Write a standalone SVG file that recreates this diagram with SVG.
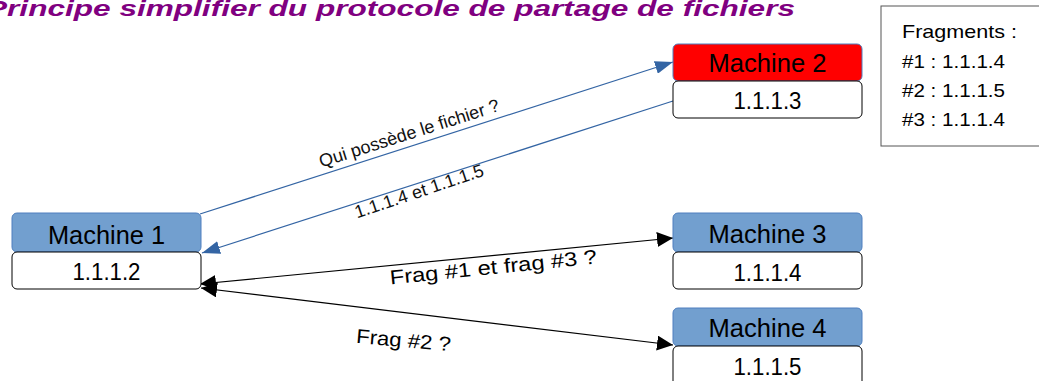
<svg xmlns="http://www.w3.org/2000/svg" width="1039" height="381" viewBox="0 0 1039 381">
  <style>
    .hdr { fill: #729fcf; stroke: #4f7fbf; stroke-width: 1; }
    .hdr-red { fill: #ff0000; stroke: #4f7fbf; stroke-width: 1; }
    .ip { fill: #ffffff; stroke: #000000; stroke-width: 1; }
    .name { font-family: "Liberation Sans", Arial, sans-serif; font-size: 26px; fill: #000; text-anchor: middle; }
    .addr { font-family: "Liberation Sans", Arial, sans-serif; font-size: 24px; fill: #000; text-anchor: middle; }
    .blue { stroke: #3465a4; stroke-width: 1.2; fill: none; }
    .black { stroke: #000000; stroke-width: 1.2; fill: none; }
    .lbl { font-family: "Liberation Sans", Arial, sans-serif; font-size: 18px; fill: #111; text-anchor: middle; }
    .lbl2 { font-family: "Liberation Sans", Arial, sans-serif; font-size: 20px; fill: #000; text-anchor: middle; }
    .frag { font-family: "Liberation Sans", Arial, sans-serif; font-size: 19px; fill: #000; }
    .title { font-family: "Liberation Sans", Arial, sans-serif; font-size: 22px; font-weight: bold; font-style: italic; fill: #800080; }
  </style>
  <defs>
    <marker id="arrBlue" markerUnits="userSpaceOnUse" markerWidth="18" markerHeight="13" refX="18" refY="6.5" orient="auto-start-reverse">
      <path d="M0,0 L18,6.5 L0,13 Z" fill="#3465a4"/>
    </marker>
    <marker id="arrBlack" markerUnits="userSpaceOnUse" markerWidth="16" markerHeight="15" refX="16" refY="7.5" orient="auto-start-reverse">
      <path d="M0,0 L16,7.5 L0,15 Z" fill="#000000"/>
    </marker>
  </defs>
  <rect x="0" y="0" width="1039" height="381" fill="#ffffff"/>

  <text id="title" class="title" x="-14" y="16" textLength="809" lengthAdjust="spacingAndGlyphs">Principe simplifier du protocole de partage de fichiers</text>

  <g id="fragments">
    <rect x="881" y="6" width="170" height="140" fill="#ffffff" stroke="#555555" stroke-width="1"/>
    <text class="frag" x="902" y="38" textLength="115" lengthAdjust="spacingAndGlyphs">Fragments :</text>
    <text class="frag" x="902" y="68" textLength="103" lengthAdjust="spacingAndGlyphs">#1 : 1.1.1.4</text>
    <text class="frag" x="902" y="97" textLength="103" lengthAdjust="spacingAndGlyphs">#2 : 1.1.1.5</text>
    <text class="frag" x="902" y="126" textLength="103" lengthAdjust="spacingAndGlyphs">#3 : 1.1.1.4</text>
  </g>

  <g id="connectors">
    <line class="blue" x1="200" y1="214" x2="673" y2="62" marker-end="url(#arrBlue)"/>
    <line class="blue" x1="673" y1="101" x2="202" y2="253" marker-end="url(#arrBlue)"/>
    <line class="black" x1="200" y1="284" x2="673" y2="238" marker-start="url(#arrBlack)" marker-end="url(#arrBlack)"/>
    <line class="black" x1="201" y1="288" x2="673" y2="345" marker-start="url(#arrBlack)" marker-end="url(#arrBlack)"/>
    <text class="lbl" transform="translate(411,139) rotate(-17.6)" x="0" y="0">Qui possède le fichier ?</text>
    <text class="lbl" transform="translate(421,197) rotate(-18.5)" x="0" y="0">1.1.1.4 et 1.1.1.5</text>
    <text class="lbl2" transform="translate(494,274) rotate(-5.8)" x="0" y="0" textLength="208" lengthAdjust="spacingAndGlyphs">Frag #1 et frag #3 ?</text>
    <text class="lbl2" transform="translate(403,347) rotate(5)" x="0" y="0" textLength="95" lengthAdjust="spacingAndGlyphs">Frag #2 ?</text>
  </g>

  <g id="machine1">
    <rect class="hdr" x="12" y="213" width="189" height="39" rx="5"/>
    <rect class="ip" x="12" y="252" width="189" height="37" rx="5"/>
    <text class="name" x="106.5" y="244" textLength="117" lengthAdjust="spacingAndGlyphs">Machine 1</text>
    <text class="addr" x="106.5" y="280" textLength="68" lengthAdjust="spacingAndGlyphs">1.1.1.2</text>
  </g>

  <g id="machine2">
    <rect class="hdr-red" x="673" y="44" width="189" height="37" rx="5"/>
    <rect class="ip" x="673" y="81" width="189" height="37" rx="5"/>
    <text class="name" x="767.5" y="72" textLength="118" lengthAdjust="spacingAndGlyphs">Machine 2</text>
    <text class="addr" x="767.5" y="109" textLength="68" lengthAdjust="spacingAndGlyphs">1.1.1.3</text>
  </g>

  <g id="machine3">
    <rect class="hdr" x="673" y="213" width="189" height="39" rx="5"/>
    <rect class="ip" x="673" y="252" width="189" height="37" rx="5"/>
    <text class="name" x="767.5" y="243" textLength="118" lengthAdjust="spacingAndGlyphs">Machine 3</text>
    <text class="addr" x="767.5" y="281" textLength="68" lengthAdjust="spacingAndGlyphs">1.1.1.4</text>
  </g>

  <g id="machine4">
    <rect class="hdr" x="673" y="308" width="189" height="38" rx="5"/>
    <rect class="ip" x="673" y="346" width="189" height="40" rx="5"/>
    <text class="name" x="767.5" y="337" textLength="118" lengthAdjust="spacingAndGlyphs">Machine 4</text>
    <text class="addr" x="767.5" y="375" textLength="68" lengthAdjust="spacingAndGlyphs">1.1.1.5</text>
  </g>
</svg>
